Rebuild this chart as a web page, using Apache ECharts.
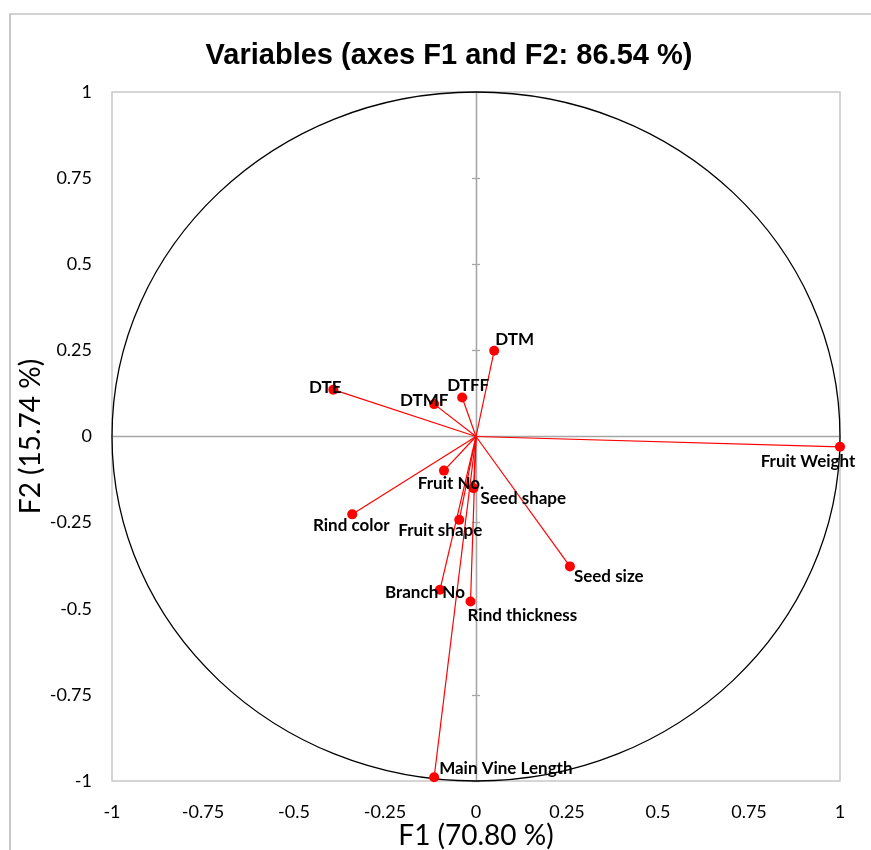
<!DOCTYPE html>
<html><head><meta charset="utf-8">
<script src="https://cdn.jsdelivr.net/npm/echarts@6/dist/echarts.min.js"></script>
<style>html,body{margin:0;padding:0;background:#fff}#c{width:871px;height:850px}</style>
</head><body><div id="c"></div>
<script>
// ---- data ----
const variables = ['DTM','DTE','DTMF','DTFF','Fruit Weight','Fruit No.','Seed shape','Rind color','Fruit shape','Seed size','Branch No','Rind thickness','Main Vine Length'];
const f1 = [0.050,-0.392,-0.115,-0.038,1.000,-0.088,-0.007,-0.340,-0.046,0.258,-0.099,-0.015,-0.115];
const f2 = [0.249,0.136,0.094,0.113,-0.030,-0.099,-0.150,-0.226,-0.242,-0.377,-0.445,-0.479,-0.989];
const axisMin = -1, axisMax = 1, axisStep = 0.25;
const titleText = 'Variables (axes F1 and F2: 86.54 %)';
const xName = 'F1 (70.80 %)';
const yName = 'F2 (15.74 %)';

// ---- label placement (style) ----
const labelPlace = {
  'DTM': ['left', 1, -11],
  'DTE': ['center', -8, -2],
  'DTMF': ['center', -10, -4],
  'DTFF': ['center', 6, -12],
  'Fruit Weight': ['center', -32, 15],
  'Fruit No.': ['center', 7, 13],
  'Seed shape': ['left', 7, 10],
  'Rind color': ['center', -1, 11],
  'Fruit shape': ['center', -19, 11],
  'Seed size': ['left', 4, 10],
  'Branch No': ['center', -15, 3],
  'Rind thickness': ['left', -3, 14],
  'Main Vine Length': ['left', 5, -9]
};

const chart = echarts.init(document.getElementById('c'));
const axisGray = '#a6a6a6';
const tickFont = {fontFamily:'Lato', fontSize:18, color:'#000'};

function centerAxis(type, showTick, inside) {
  return {
    type:'value', min:axisMin, max:axisMax, interval:axisStep,
    position: type === 'x' ? 'bottom' : 'left',
    axisLine:{show:true, onZero:true, lineStyle:{color:axisGray, width:1.3}},
    axisTick:{show:showTick, inside:inside, length:4, lineStyle:{color:axisGray, width:1.3}},
    axisLabel:{show:false}, splitLine:{show:false}
  };
}

const points = variables.map((v,i) => {
  const p = labelPlace[v];
  return {
    name: v, value:[f1[i], f2[i]],
    label:{show:true, formatter:v, position:'inside', align:p[0], verticalAlign:'middle', offset:[p[1], p[2]],
      fontFamily:'Lato', fontWeight:'bold', fontSize:17, color:'#000'}
  };
});
const vectors = variables.map((v,i) => ({coords:[[0,0],[f1[i], f2[i]]]}));

chart.setOption({
  animation:false,
  backgroundColor:'#fff',
  title:{text:titleText, left:444, top:36, textAlign:'center',
    textStyle:{fontFamily:'Liberation Sans', fontWeight:'bold', fontSize:29, color:'#000'}},
  grid:{left:112, right:31, top:92, bottom:69, containLabel:false, outerBoundsMode:'none',
    show:true, borderColor:'#c8c8c8', borderWidth:1.5, backgroundColor:'transparent'},
  xAxis:[
    {type:'value', min:axisMin, max:axisMax, interval:axisStep, position:'bottom',
     axisLine:{show:false, onZero:false}, axisTick:{show:false}, splitLine:{show:false},
     axisLabel:Object.assign({margin:22}, tickFont),
     name:xName, nameLocation:'middle', nameGap:41, nameMoveOverlap:false,
     nameTextStyle:{fontFamily:'Lato', fontSize:28, color:'#000'}},
    centerAxis('x', false, false)
  ],
  yAxis:[
    {type:'value', min:axisMin, max:axisMax, interval:axisStep, position:'left',
     axisLine:{show:false, onZero:false}, axisTick:{show:false}, splitLine:{show:false},
     axisLabel:Object.assign({margin:20}, tickFont),
     name:yName, nameLocation:'middle', nameGap:67, nameRotate:90, nameMoveOverlap:false,
     nameTextStyle:{fontFamily:'Lato', fontSize:28, color:'#000'}},
    centerAxis('y', true, true), centerAxis('y', true, false)
  ],
  series:[
    {type:'lines', coordinateSystem:'cartesian2d', xAxisIndex:0, yAxisIndex:0, silent:true, z:3,
     lineStyle:{color:'#ff0000', width:1.2, opacity:1}, data:vectors},
    {type:'scatter', xAxisIndex:0, yAxisIndex:0, symbol:'circle', symbolSize:10, z:4,
     itemStyle:{color:'#ff0000', opacity:1}, data:points}
  ]
});

const c0 = chart.convertToPixel({xAxisIndex:0, yAxisIndex:0}, [0,0]);
const c1 = chart.convertToPixel({xAxisIndex:0, yAxisIndex:0}, [1,1]);
chart.setOption({
  graphic:[
    {type:'rect', z:0, silent:true, shape:{x:10, y:14, width:900, height:900},
     style:{fill:'none', stroke:'#a6a6a6', lineWidth:1.2}},
    {type:'ellipse', z:1, silent:true, shape:{cx:c0[0], cy:c0[1], rx:c1[0]-c0[0], ry:c0[1]-c1[1]},
     style:{fill:'none', stroke:'#000', lineWidth:1.3}}
  ]
});
</script>
</body></html>
